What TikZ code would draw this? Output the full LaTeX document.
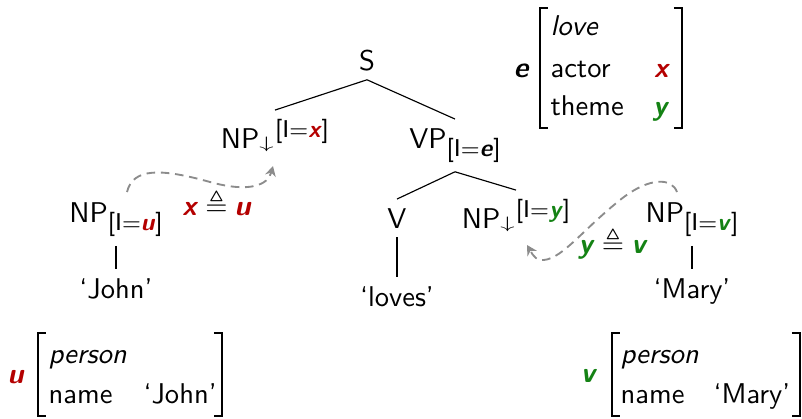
\documentclass[tikz,border=0pt]{standalone}
\usepackage{fontspec}
\usepackage{amssymb}
\usepackage{graphicx}
\usetikzlibrary{arrows.meta}
\definecolor{myred}{RGB}{180,0,0}
\definecolor{mygreen}{RGB}{20,130,20}
\definecolor{mygray}{RGB}{140,140,140}
\newcommand{\bi}[1]{\textbf{\textit{#1}}}
\newcommand{\rx}{\textcolor{myred}{\bi{x}}}
\newcommand{\ru}{\textcolor{myred}{\bi{u}}}
\newcommand{\gy}{\textcolor{mygreen}{\bi{y}}}
\newcommand{\gv}{\textcolor{mygreen}{\bi{v}}}
\newcommand{\featbox}[1]{{\fontsize{8.5}{10}\selectfont[I$=$#1]}}
\newcommand{\subf}[1]{\raisebox{-3pt}{\featbox{#1}}}
\newcommand{\supf}[1]{\raisebox{3.7pt}{\featbox{#1}}}
\newcommand{\darr}{\raisebox{-0.3pt}{\scalebox{1}[0.58]{$\downarrow$}}}
\begin{document}
\begin{tikzpicture}[x=0.35pt,y=-0.35pt,font=\sffamily,
  tn/.style={anchor=base,inner sep=3pt},
  txt/.style={anchor=base west,inner sep=0pt},
  lab/.style={anchor=base,inner sep=0pt},
  avm/.style={line width=0.55pt},
  conn/.style={draw=mygray,line width=0.65pt,dash pattern=on 3pt off 2pt,
    -{Stealth[length=3.5pt,width=3.8pt]}}]
\useasboundingbox (0,0) rectangle (802,418);
% tree nodes
\node[tn] (S) at (367,70) {S};
\node[tn] (NPx) at (275,148) {NP\darr\hspace{0.5pt}\supf{\rx}};
\node[tn] (VPe) at (455,148) {VP\subf{\bi{e}}};
\node[tn] (V) at (397,228) {V};
\node[tn] (NPy) at (516,228) {NP\darr\hspace{0.5pt}\supf{\gy}};
\node[tn] (NPu) at (116,222) {NP\subf{\ru}};
\node[tn] (NPv) at (692,222) {NP\subf{\gv}};
\node[tn] (John) at (116,298) {‘John’};
\node[tn] (loves) at (397,306) {‘loves’};
\node[tn] (Mary) at (692,298) {‘Mary’};
% tree edges
\draw (S.south) -- (NPx.north);
\draw (S.south) -- (VPe.north);
\draw (VPe.south) -- (V.north);
\draw (VPe.south) -- (NPy.north);
\draw (V.south) -- (loves.north);
\draw (NPu.south) -- (John.north);
\draw (NPv.south) -- (Mary.north);
% substitution arrows
\coordinate (cu) at (127,192);
\coordinate (cx) at (273,166);
\coordinate (cv) at (677,192);
\coordinate (cy) at (527,245);
\draw[conn] (cu) .. controls (133,168) and (160,168) .. (210,182)
  .. controls (250,193) and (268,185) .. (cx);
\draw[conn] (cv) .. controls (672,178) and (650,176) .. (620,200)
  .. controls (580,232) and (560,262) .. (540,260)
  .. controls (534,259) and (530,250) .. (cy);
\node[lab] (l1) at (217,215) {\rx\kern2.5pt$\triangleq$\kern2.5pt\ru};
\node[lab] (l2) at (613,253) {\gy\kern2.5pt$\triangleq$\kern2.5pt\gv};
% AVM e
\node[lab] (e) at (522,77) {\bi{e}};
\node[txt] (love) at (550,35) {\textit{love}};
\node[txt] (actor) at (550,77) {actor};
\node[txt] (theme) at (550,115) {theme};
\node[lab] (ex) at (662,77) {\rx};
\node[lab] (ey) at (661,115) {\gy};
\draw[avm] (548,8) -- (540,8) -- (540,128) -- (548,128);
\draw[avm] (674,8) -- (682,8) -- (682,128) -- (674,128);
% AVM u
\node[lab] (u) at (16,383) {\ru};
\node[txt] (up) at (48,363) {\textit{person}};
\node[txt] (un) at (48,403) {name};
\node[txt] (uj) at (143,403) {‘John’};
\draw[avm] (46,333) -- (38,333) -- (38,416) -- (46,416);
\draw[avm] (214,333) -- (222,333) -- (222,416) -- (214,416);
% AVM v
\node[lab] (v) at (589,382) {\gv};
\node[txt] (vp) at (620,363) {\textit{person}};
\node[txt] (vn) at (620,403) {name};
\node[txt] (vm) at (713,403) {‘Mary’};
\draw[avm] (620,333) -- (612,333) -- (612,416) -- (620,416);
\draw[avm] (792,333) -- (800,333) -- (800,416) -- (792,416);
\end{tikzpicture}
\end{document}
